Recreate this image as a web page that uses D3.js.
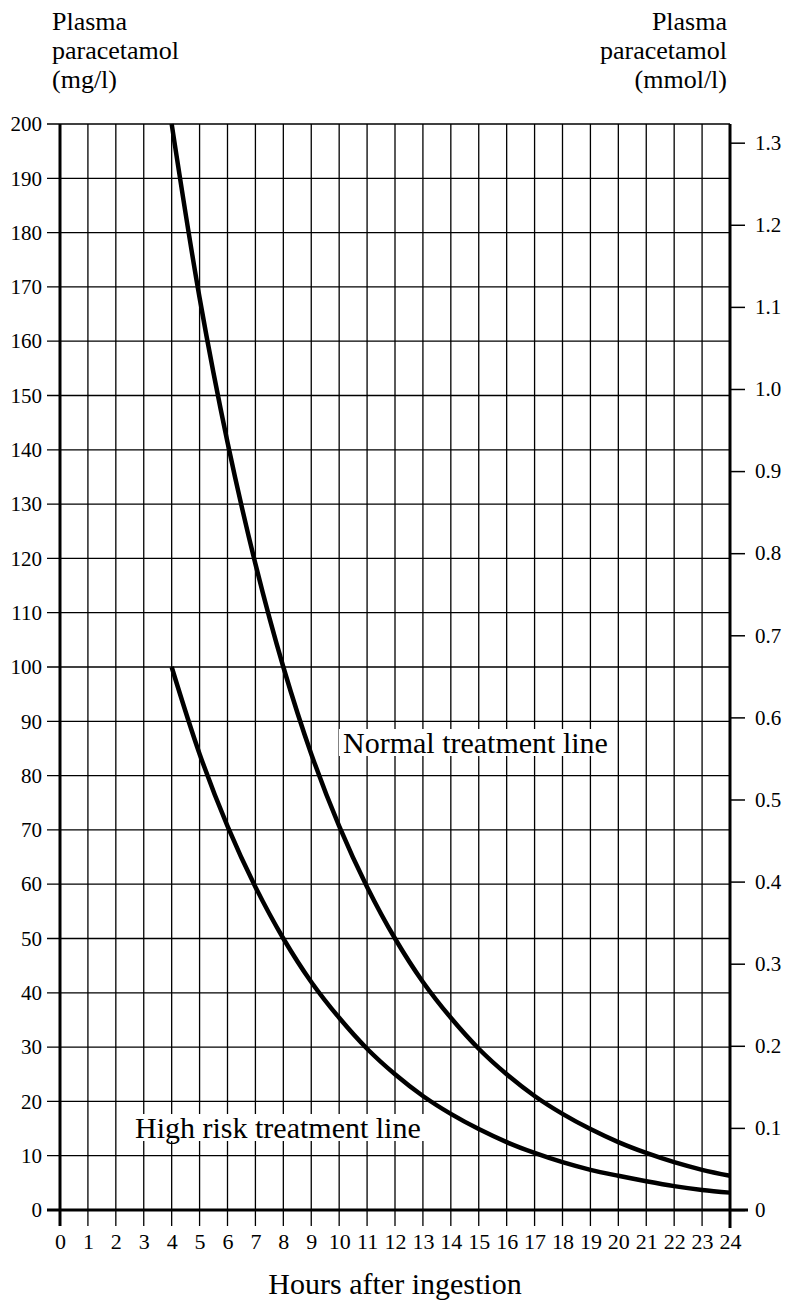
<!DOCTYPE html>
<html>
<head>
<meta charset="utf-8">
<script src="https://cdn.jsdelivr.net/npm/d3@7"></script>
<style>
  body { margin: 0; background: #fff; }
  #chart text { font-family: "Liberation Serif", "Times New Roman", Tinos, serif !important; }
</style>
</head>
<body>
<svg id="chart" width="788" height="1305"></svg>
<script>
// data
const hours = [4, 5, 6, 7, 8, 9, 10, 11, 12, 13, 14, 15, 16, 17, 18, 19, 20, 21, 22, 23, 24];
const normalLine = [200, 168, 141.4, 119, 100, 84, 70.7, 59.5, 50, 42, 35.4, 29.7, 25, 21, 17.7, 14.9, 12.5, 10.5, 8.8, 7.4, 6.3];
const highRiskLine = [100, 84, 70.7, 59.5, 50, 42, 35.4, 29.7, 25, 21, 17.7, 14.9, 12.5, 10.5, 8.8, 7.4, 6.3, 5.3, 4.4, 3.7, 3.2];
const mgTicks = d3.range(0, 201, 10);
const mmolTicks = [0, 0.1, 0.2, 0.3, 0.4, 0.5, 0.6, 0.7, 0.8, 0.9, 1.0, 1.1, 1.2, 1.3];
const hourTicks = d3.range(0, 25, 1);
const molarMass = 151.2; // mg per mmol

const W = 788, H = 1305;
const margin = { top: 124, right: 58, bottom: 95, left: 60 };
const FONT = "Times New Roman";

const svg = d3.select("#chart").attr("font-family", FONT);

const x = d3.scaleLinear().domain([0, 24]).range([margin.left, W - margin.right]);
const y = d3.scaleLinear().domain([0, 200]).range([H - margin.bottom, margin.top]);
const yR = d3.scaleLinear().domain([0, 200 / molarMass]).range(y.range());

// grid
svg.append("g")
  .selectAll("line")
  .data(hourTicks)
  .join("line")
  .attr("x1", d => x(d)).attr("x2", d => x(d))
  .attr("y1", y(200)).attr("y2", y(0) + 16)
  .attr("stroke", "#000").attr("stroke-width", 1.3);

svg.append("g")
  .selectAll("line")
  .data(mgTicks)
  .join("line")
  .attr("x1", x(0) - 13).attr("x2", x(24))
  .attr("y1", d => y(d)).attr("y2", d => y(d))
  .attr("stroke", "#000").attr("stroke-width", 1.3);

// left axis labels
const yAxis = d3.axisLeft(y).tickValues(mgTicks).tickSize(0).tickPadding(18);
svg.append("g")
  .attr("transform", `translate(${x(0)},0)`)
  .call(yAxis)
  .attr("font-family", FONT).attr("font-size", 21)
  .call(g => g.select(".domain").remove());

// right axis
const yAxisR = d3.axisRight(yR).tickValues(mmolTicks).tickSize(15).tickPadding(10)
  .tickFormat(d => d === 0 ? "0" : d3.format(".1f")(d));
svg.append("g")
  .attr("transform", `translate(${x(24)},0)`)
  .call(yAxisR)
  .attr("font-family", FONT).attr("font-size", 21)
  .call(g => g.select(".domain").remove())
  .call(g => g.selectAll(".tick line").attr("stroke-width", 1.5));

// bottom axis labels
const xAxis = d3.axisBottom(x).tickValues(hourTicks).tickSize(0).tickPadding(23);
svg.append("g")
  .attr("transform", `translate(0,${y(0)})`)
  .call(xAxis)
  .attr("font-family", FONT).attr("font-size", 22)
  .call(g => g.select(".domain").remove());

// heavy frame lines
svg.append("line")
  .attr("x1", x(0)).attr("x2", x(0)).attr("y1", y(200)).attr("y2", y(0) + 16)
  .attr("stroke", "#000").attr("stroke-width", 3);
svg.append("line")
  .attr("x1", x(24)).attr("x2", x(24)).attr("y1", y(200)).attr("y2", y(0) + 18)
  .attr("stroke", "#000").attr("stroke-width", 3);
svg.append("line")
  .attr("x1", x(0) - 13).attr("x2", x(24) + 18).attr("y1", y(0)).attr("y2", y(0))
  .attr("stroke", "#000").attr("stroke-width", 3);

// treatment lines
const line = d3.line()
  .x(d => x(d[0]))
  .y(d => y(d[1]))
  .curve(d3.curveCatmullRom.alpha(0.5));

svg.append("path")
  .datum(d3.zip(hours, normalLine))
  .attr("d", line)
  .attr("fill", "none").attr("stroke", "#000").attr("stroke-width", 4.5);

svg.append("path")
  .datum(d3.zip(hours, highRiskLine))
  .attr("d", line)
  .attr("fill", "none").attr("stroke", "#000").attr("stroke-width", 4.5);

// line labels (white box behind the text hides grid)
function label(txt, xp, yp) {
  const t = svg.append("text")
    .attr("x", xp).attr("y", yp)
    .attr("font-family", FONT).attr("font-size", 30)
    .text(txt);
  const b = t.node().getBBox();
  svg.insert("rect", () => t.node())
    .attr("x", b.x - 4).attr("y", b.y + 3)
    .attr("width", b.width + 8).attr("height", b.height - 6)
    .attr("fill", "#fff");
}
label("Normal treatment line", 343, 753);
label("High risk treatment line", 135, 1138);

// axis titles
const leftTitle = ["Plasma", "paracetamol", "(mg/l)"];
const rightTitle = ["Plasma", "paracetamol", "(mmol/l)"];
svg.append("g").selectAll("text")
  .data(leftTitle)
  .join("text")
  .attr("x", 52).attr("y", (d, i) => 30 + i * 29)
  .attr("font-family", FONT).attr("font-size", 26)
  .text(d => d);
svg.append("g").selectAll("text")
  .data(rightTitle)
  .join("text")
  .attr("x", 727).attr("y", (d, i) => 30 + i * 29)
  .attr("text-anchor", "end")
  .attr("font-family", FONT).attr("font-size", 26)
  .text(d => d);

svg.append("text")
  .attr("x", 395).attr("y", 1294)
  .attr("text-anchor", "middle")
  .attr("font-family", FONT).attr("font-size", 30)
  .text("Hours after ingestion");
</script>
</body>
</html>
